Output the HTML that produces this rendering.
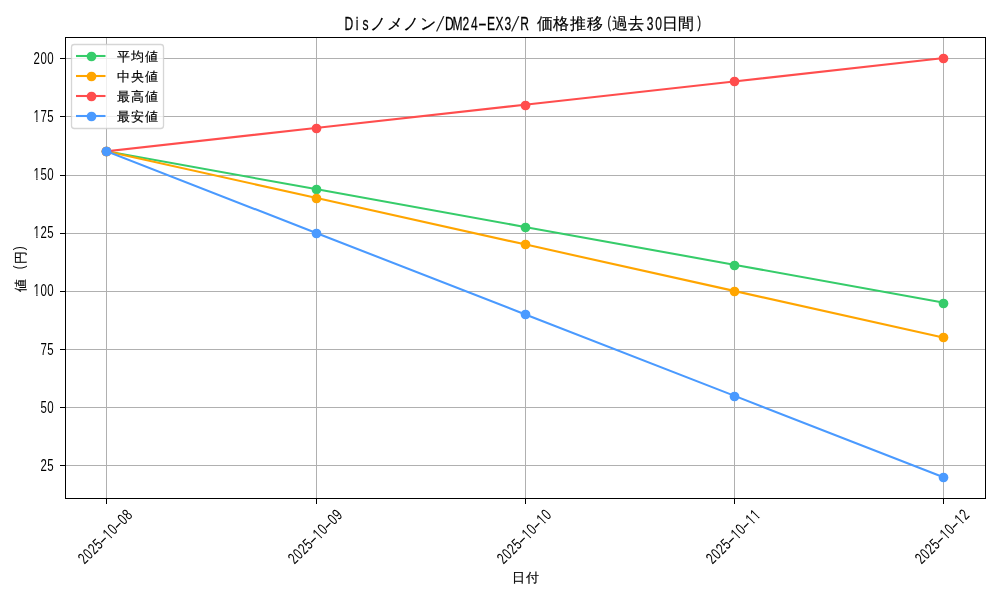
<!DOCTYPE html>
<html lang="ja"><head><meta charset="utf-8"><title>Disノメノン/DM24-EX3/R 価格推移</title><style>html,body{margin:0;padding:0;background:#fff;overflow:hidden}svg{display:block;will-change:transform}text{font-family:"Liberation Sans",sans-serif;fill:#000}.c{stroke:#000;stroke-width:0.18px}.l{stroke:#000;stroke-width:0.25px}</style></head><body>
<svg width="1000" height="600" viewBox="0 0 1000 600">
<rect width="1000" height="600" fill="#fff"/>
<g stroke="#b0b0b0" stroke-width="1" shape-rendering="crispEdges">
<line x1="106.5" y1="37" x2="106.5" y2="499"/>
<line x1="316.5" y1="37" x2="316.5" y2="499"/>
<line x1="525.5" y1="37" x2="525.5" y2="499"/>
<line x1="734.5" y1="37" x2="734.5" y2="499"/>
<line x1="943.5" y1="37" x2="943.5" y2="499"/>
<line x1="65" y1="58.5" x2="986" y2="58.5"/>
<line x1="65" y1="116.5" x2="986" y2="116.5"/>
<line x1="65" y1="175.5" x2="986" y2="175.5"/>
<line x1="65" y1="233.5" x2="986" y2="233.5"/>
<line x1="65" y1="291.5" x2="986" y2="291.5"/>
<line x1="65" y1="349.5" x2="986" y2="349.5"/>
<line x1="65" y1="407.5" x2="986" y2="407.5"/>
<line x1="65" y1="465.5" x2="986" y2="465.5"/>
</g>
<polyline points="106.39,151.27 315.59,189.08 524.79,226.9 733.99,264.72 943.19,302.53" fill="none" stroke="#36cc6a" stroke-width="2.08" stroke-linejoin="round" stroke-linecap="square"/>
<g fill="#36cc6a"><circle cx="106.5" cy="151.5" r="4.86"/><circle cx="316.5" cy="189.5" r="4.86"/><circle cx="525.5" cy="227.5" r="4.86"/><circle cx="734.5" cy="265.5" r="4.86"/><circle cx="943.5" cy="303.5" r="4.86"/></g>
<polyline points="106.39,151.27 315.59,197.81 524.79,244.35 733.99,290.89 943.19,337.44" fill="none" stroke="#ffa500" stroke-width="2.08" stroke-linejoin="round" stroke-linecap="square"/>
<g fill="#ffa500"><circle cx="106.5" cy="151.5" r="4.86"/><circle cx="316.5" cy="198.5" r="4.86"/><circle cx="525.5" cy="244.5" r="4.86"/><circle cx="734.5" cy="291.5" r="4.86"/><circle cx="943.5" cy="337.5" r="4.86"/></g>
<polyline points="106.39,151.27 315.59,128 524.79,104.73 733.99,81.46 943.19,58.19" fill="none" stroke="#ff4d4d" stroke-width="2.08" stroke-linejoin="round" stroke-linecap="square"/>
<g fill="#ff4d4d"><circle cx="106.5" cy="151.5" r="4.86"/><circle cx="316.5" cy="128.5" r="4.86"/><circle cx="525.5" cy="105.5" r="4.86"/><circle cx="734.5" cy="81.5" r="4.86"/><circle cx="943.5" cy="58.5" r="4.86"/></g>
<polyline points="106.39,151.27 315.59,232.72 524.79,314.17 733.99,395.61 943.19,477.06" fill="none" stroke="#4a9aff" stroke-width="2.08" stroke-linejoin="round" stroke-linecap="square"/>
<g fill="#4a9aff"><circle cx="106.5" cy="151.5" r="4.86"/><circle cx="316.5" cy="233.5" r="4.86"/><circle cx="525.5" cy="314.5" r="4.86"/><circle cx="734.5" cy="396.5" r="4.86"/><circle cx="943.5" cy="477.5" r="4.86"/></g>
<g fill="#000" shape-rendering="crispEdges">
<rect x="65" y="37" width="921" height="1"/>
<rect x="65" y="498" width="921" height="1"/>
<rect x="65" y="37" width="1" height="462"/>
<rect x="985" y="37" width="1" height="462"/>
<rect x="106" y="499" width="1" height="5"/>
<rect x="316" y="499" width="1" height="5"/>
<rect x="525" y="499" width="1" height="5"/>
<rect x="734" y="499" width="1" height="5"/>
<rect x="943" y="499" width="1" height="5"/>
<rect x="60" y="58" width="5" height="1"/>
<rect x="60" y="116" width="5" height="1"/>
<rect x="60" y="175" width="5" height="1"/>
<rect x="60" y="233" width="5" height="1"/>
<rect x="60" y="291" width="5" height="1"/>
<rect x="60" y="349" width="5" height="1"/>
<rect x="60" y="407" width="5" height="1"/>
<rect x="60" y="465" width="5" height="1"/>
</g>
<g transform="translate(33.16,0)"><text transform="scale(0.72,1)" x="4.83 14.49 24.16" y="64" font-size="15.94" text-anchor="middle">200</text></g>
<g transform="translate(33.16,0)"><text clip-path="url(#k0)" transform="scale(0.72,1)" x="4.83 14.49 24.16" y="122" font-size="15.94" text-anchor="middle">175</text></g>
<g transform="translate(33.16,0)"><text clip-path="url(#k1)" transform="scale(0.72,1)" x="4.83 14.49 24.16" y="180" font-size="15.94" text-anchor="middle">150</text></g>
<g transform="translate(33.16,0)"><text clip-path="url(#k2)" transform="scale(0.72,1)" x="4.83 14.49 24.16" y="238" font-size="15.94" text-anchor="middle">125</text></g>
<g transform="translate(33.16,0)"><text clip-path="url(#k3)" transform="scale(0.72,1)" x="4.83 14.49 24.16" y="296" font-size="15.94" text-anchor="middle">100</text></g>
<g transform="translate(40.11,0)"><text transform="scale(0.72,1)" x="4.83 14.49" y="355" font-size="15.94" text-anchor="middle">75</text></g>
<g transform="translate(40.11,0)"><text transform="scale(0.72,1)" x="4.83 14.49" y="413" font-size="15.94" text-anchor="middle">50</text></g>
<g transform="translate(40.11,0)"><text transform="scale(0.72,1)" x="4.83 14.49" y="471" font-size="15.94" text-anchor="middle">25</text></g>
<g transform="translate(105,536.6) rotate(-45) translate(-34.73,0)"><text transform="scale(0.72,1)" x="4.83 14.49 24.16 33.82" y="5.5" font-size="15.94" text-anchor="middle">2025</text><text transform="scale(1.58,1)" x="19.76" y="5.5" font-size="15.94" text-anchor="middle">-</text><text clip-path="url(#k4)" transform="scale(0.72,1)" x="53.14 62.81" y="5.5" font-size="15.94" text-anchor="middle">10</text><text transform="scale(1.58,1)" x="32.94" y="5.5" font-size="15.94" text-anchor="middle">-</text><text transform="scale(0.72,1)" x="82.13 91.79" y="5.5" font-size="15.94" text-anchor="middle">08</text></g>
<g transform="translate(315,536.6) rotate(-45) translate(-34.73,0)"><text transform="scale(0.72,1)" x="4.83 14.49 24.16 33.82" y="5.5" font-size="15.94" text-anchor="middle">2025</text><text transform="scale(1.58,1)" x="19.76" y="5.5" font-size="15.94" text-anchor="middle">-</text><text clip-path="url(#k5)" transform="scale(0.72,1)" x="53.14 62.81" y="5.5" font-size="15.94" text-anchor="middle">10</text><text transform="scale(1.58,1)" x="32.94" y="5.5" font-size="15.94" text-anchor="middle">-</text><text transform="scale(0.72,1)" x="82.13 91.79" y="5.5" font-size="15.94" text-anchor="middle">09</text></g>
<g transform="translate(524,536.6) rotate(-45) translate(-34.73,0)"><text transform="scale(0.72,1)" x="4.83 14.49 24.16 33.82" y="5.5" font-size="15.94" text-anchor="middle">2025</text><text transform="scale(1.58,1)" x="19.76" y="5.5" font-size="15.94" text-anchor="middle">-</text><text clip-path="url(#k6)" transform="scale(0.72,1)" x="53.14 62.81" y="5.5" font-size="15.94" text-anchor="middle">10</text><text transform="scale(1.58,1)" x="32.94" y="5.5" font-size="15.94" text-anchor="middle">-</text><text clip-path="url(#k7)" transform="scale(0.72,1)" x="82.13 91.79" y="5.5" font-size="15.94" text-anchor="middle">10</text></g>
<g transform="translate(733,536.6) rotate(-45) translate(-34.73,0)"><text transform="scale(0.72,1)" x="4.83 14.49 24.16 33.82" y="5.5" font-size="15.94" text-anchor="middle">2025</text><text transform="scale(1.58,1)" x="19.76" y="5.5" font-size="15.94" text-anchor="middle">-</text><text clip-path="url(#k8)" transform="scale(0.72,1)" x="53.14 62.81" y="5.5" font-size="15.94" text-anchor="middle">10</text><text transform="scale(1.58,1)" x="32.94" y="5.5" font-size="15.94" text-anchor="middle">-</text><text clip-path="url(#k9)" transform="scale(0.72,1)" x="82.13 91.79" y="5.5" font-size="15.94" text-anchor="middle">11</text></g>
<g transform="translate(942,536.6) rotate(-45) translate(-34.73,0)"><text transform="scale(0.72,1)" x="4.83 14.49 24.16 33.82" y="5.5" font-size="15.94" text-anchor="middle">2025</text><text transform="scale(1.58,1)" x="19.76" y="5.5" font-size="15.94" text-anchor="middle">-</text><text clip-path="url(#k10)" transform="scale(0.72,1)" x="53.14 62.81" y="5.5" font-size="15.94" text-anchor="middle">10</text><text transform="scale(1.58,1)" x="32.94" y="5.5" font-size="15.94" text-anchor="middle">-</text><text clip-path="url(#k11)" transform="scale(0.72,1)" x="82.13 91.79" y="5.5" font-size="15.94" text-anchor="middle">12</text></g>
<rect x="71.5" y="44.5" width="92" height="84" rx="2.8" fill="#fff" fill-opacity="0.8" stroke="#ccc" stroke-opacity="0.8" stroke-width="1.3"/>
<line x1="76" y1="56" x2="105.5" y2="56" stroke="#36cc6a" stroke-width="2.08"/>
<circle cx="91.5" cy="56.5" r="4.86" fill="#36cc6a"/>
<g transform="translate(116.3,0)"><text class="c" x="6.95 20.84 34.73" y="60.77" font-size="13.2" text-anchor="middle">平均値</text></g>
<line x1="76" y1="76" x2="105.5" y2="76" stroke="#ffa500" stroke-width="2.08"/>
<circle cx="91.5" cy="76.5" r="4.86" fill="#ffa500"/>
<g transform="translate(116.3,0)"><text class="c" x="6.95 20.84 34.73" y="80.77" font-size="13.2" text-anchor="middle">中央値</text></g>
<line x1="76" y1="96" x2="105.5" y2="96" stroke="#ff4d4d" stroke-width="2.08"/>
<circle cx="91.5" cy="96.5" r="4.86" fill="#ff4d4d"/>
<g transform="translate(116.3,0)"><text class="c" x="6.95 20.84 34.73" y="100.77" font-size="13.2" text-anchor="middle">最高値</text></g>
<line x1="76" y1="116" x2="105.5" y2="116" stroke="#4a9aff" stroke-width="2.08"/>
<circle cx="91.5" cy="116.5" r="4.86" fill="#4a9aff"/>
<g transform="translate(116.3,0)"><text class="c" x="6.95 20.84 34.73" y="120.77" font-size="13.2" text-anchor="middle">最安値</text></g>
<g transform="translate(344.6,0)"><text class="l" transform="scale(0.66,1)" x="6.34 19.03 31.71" y="29.6" font-size="18.26" text-anchor="middle">Dis</text><text class="c" x="33.34 50.01 66.68 83.35" y="28.6" font-size="15.84" text-anchor="middle">ノメノン</text><text class="l" transform="translate(93.55,30.93) skewX(-16) scale(0.66,1)" x="0" y="0" font-size="20.45" text-anchor="middle">/</text><text class="l" transform="scale(0.66,1)" x="158.55 171.23 183.91 196.6" y="29.6" font-size="18.26" text-anchor="middle">DM24</text><text class="l" transform="scale(1.45,1)" x="95.13" y="29.6" font-size="18.26" text-anchor="middle">-</text><text class="l" transform="scale(0.66,1)" x="221.96 234.65 247.33" y="29.6" font-size="18.26" text-anchor="middle">EX3</text><text class="l" transform="translate(168.57,30.93) skewX(-16) scale(0.66,1)" x="0" y="0" font-size="20.45" text-anchor="middle">/</text><text class="l" transform="scale(0.66,1)" x="272.7" y="29.6" font-size="18.26" text-anchor="middle">R</text><text class="c" x="200.04 216.71 233.38 250.05" y="28.6" font-size="15.84" text-anchor="middle">価格推移</text><text class="l" transform="scale(0.66,1)" x="401.06" y="27.6" font-size="15.89" text-anchor="middle">(</text><text class="c" x="275.06 291.73" y="28.6" font-size="15.84" text-anchor="middle">過去</text><text class="l" transform="scale(0.66,1)" x="462.95 475.64" y="29.6" font-size="18.26" text-anchor="middle">30</text><text class="c" x="325.07 341.74" y="28.6" font-size="15.84" text-anchor="middle">日間</text><text class="l" transform="scale(0.66,1)" x="537.54" y="27.6" font-size="15.89" text-anchor="middle">)</text></g>
<g transform="translate(511.41,0)"><text class="c" x="6.95 20.84" y="581.67" font-size="13.2" text-anchor="middle">日付</text></g>
<g transform="translate(25.5,292.51) rotate(-90)"><text class="c" x="6.95" y="-0.83" font-size="13.2" text-anchor="middle">値</text><text transform="scale(0.8,1)" x="31.43" y="-1.67" font-size="14.79" text-anchor="middle">(</text><text class="c" x="34.73" y="-0.83" font-size="13.2" text-anchor="middle">円</text><text transform="scale(0.8,1)" x="55.39" y="-1.67" font-size="14.79" text-anchor="middle">)</text></g>
<defs><clipPath id="k0"><path clip-rule="evenodd" d="M-2000 -2000H3000V3000H-2000ZM0.05 120.09H4.43V122.8H0.05ZM6.03 120.09H9.61V122.8H6.03Z"/></clipPath><clipPath id="k1"><path clip-rule="evenodd" d="M-2000 -2000H3000V3000H-2000ZM0.05 178.09H4.43V180.8H0.05ZM6.03 178.09H9.61V180.8H6.03Z"/></clipPath><clipPath id="k2"><path clip-rule="evenodd" d="M-2000 -2000H3000V3000H-2000ZM0.05 236.09H4.43V238.8H0.05ZM6.03 236.09H9.61V238.8H6.03Z"/></clipPath><clipPath id="k3"><path clip-rule="evenodd" d="M-2000 -2000H3000V3000H-2000ZM0.05 294.09H4.43V296.8H0.05ZM6.03 294.09H9.61V296.8H6.03Z"/></clipPath><clipPath id="k4"><path clip-rule="evenodd" d="M-2000 -2000H3000V3000H-2000ZM48.36 3.59H52.75V6.3H48.36ZM54.34 3.59H57.93V6.3H54.34Z"/></clipPath><clipPath id="k5"><path clip-rule="evenodd" d="M-2000 -2000H3000V3000H-2000ZM48.36 3.59H52.75V6.3H48.36ZM54.34 3.59H57.93V6.3H54.34Z"/></clipPath><clipPath id="k6"><path clip-rule="evenodd" d="M-2000 -2000H3000V3000H-2000ZM48.36 3.59H52.75V6.3H48.36ZM54.34 3.59H57.93V6.3H54.34Z"/></clipPath><clipPath id="k7"><path clip-rule="evenodd" d="M-2000 -2000H3000V3000H-2000ZM77.35 3.59H81.73V6.3H77.35ZM83.33 3.59H86.91V6.3H83.33Z"/></clipPath><clipPath id="k8"><path clip-rule="evenodd" d="M-2000 -2000H3000V3000H-2000ZM48.36 3.59H52.75V6.3H48.36ZM54.34 3.59H57.93V6.3H54.34Z"/></clipPath><clipPath id="k9"><path clip-rule="evenodd" d="M-2000 -2000H3000V3000H-2000ZM77.35 3.59H81.73V6.3H77.35ZM83.33 3.59H86.91V6.3H83.33ZM87.01 3.59H91.4V6.3H87.01ZM92.99 3.59H96.58V6.3H92.99Z"/></clipPath><clipPath id="k10"><path clip-rule="evenodd" d="M-2000 -2000H3000V3000H-2000ZM48.36 3.59H52.75V6.3H48.36ZM54.34 3.59H57.93V6.3H54.34Z"/></clipPath><clipPath id="k11"><path clip-rule="evenodd" d="M-2000 -2000H3000V3000H-2000ZM77.35 3.59H81.73V6.3H77.35ZM83.33 3.59H86.91V6.3H83.33Z"/></clipPath></defs>
</svg></body></html>
